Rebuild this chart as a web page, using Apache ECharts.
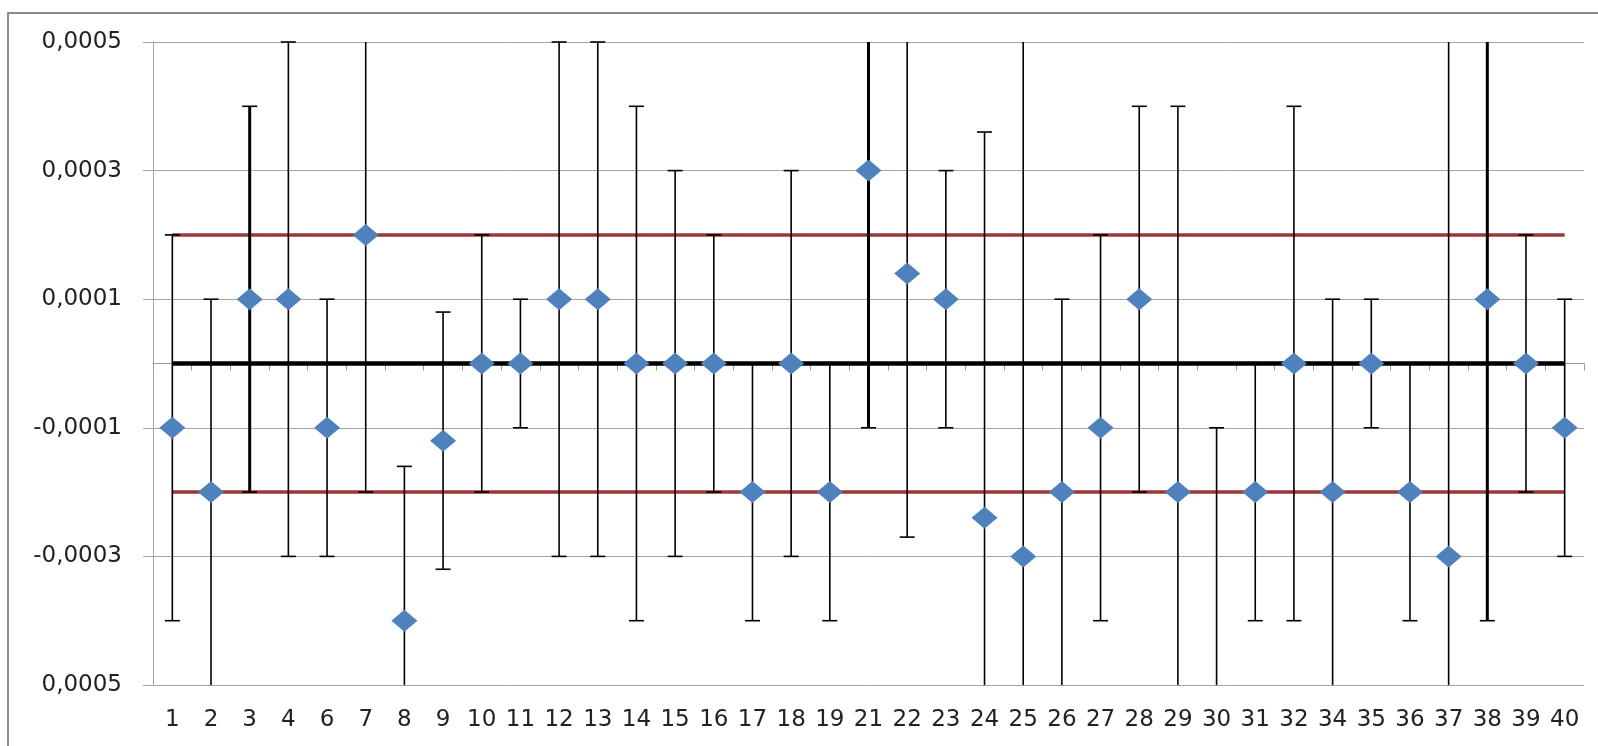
<!DOCTYPE html>
<html>
<head>
<meta charset="utf-8">
<script src="https://cdn.jsdelivr.net/npm/echarts@6/dist/echarts.min.js"></script>
<style>
  html, body { margin: 0; padding: 0; background: #ffffff; }
  #chart { width: 1598px; height: 746px; }
</style>
</head>
<body>
<div id="chart"></div>
<script>
// ---- data ----
const categories = ['1','2','3','4','6','7','8','9','10','11','12','13','14','15','16','17','18','19','21','22','23','24','25','26','27','28','29','30','31','32','34','35','36','37','38','39','40'];
const values = [-0.0001,-0.0002,0.0001,0.0001,-0.0001,0.0002,-0.0004,-0.00012,0,0,0.0001,0.0001,0,0,0,-0.0002,0,-0.0002,0.0003,0.00014,0.0001,-0.00024,-0.0003,-0.0002,-0.0001,0.0001,-0.0002,null,-0.0002,0,-0.0002,0,-0.0002,-0.0003,0.0001,0,-0.0001];
const errHigh = [0.0002,0.0001,0.0004,0.0005,0.0001,0.0006,-0.00016,0.00008,0.0002,0.0001,0.0005,0.0005,0.0004,0.0003,0.0002,0,0.0003,0,0.0007,0.00055,0.0003,0.00036,0.0006,0.0001,0.0002,0.0004,0.0004,-0.0001,0,0.0004,0.0001,0.0001,0,0.0006,0.0006,0.0002,0.0001];
const errLow = [-0.0004,-0.0005,-0.0002,-0.0003,-0.0003,-0.0002,-0.00064,-0.00032,-0.0002,-0.0001,-0.0003,-0.0003,-0.0004,-0.0003,-0.0002,-0.0004,-0.0003,-0.0004,-0.0001,-0.00027,-0.0001,-0.00084,-0.0012,-0.0005,-0.0004,-0.0002,-0.0008,-0.0009,-0.0004,-0.0004,-0.0005,-0.0001,-0.0004,-0.0012,-0.0004,-0.0002,-0.0003];
const thickBars = ['3','21','38'];
const upperLimit = 0.0002;
const lowerLimit = -0.0002;
const centerLine = 0;
const yMin = -0.0005, yMax = 0.0005, yStep = 0.0002;
const yTickLabels = ['0,0005','-0,0003','-0,0001','0,0001','0,0003','0,0005'];

// ---- chart ----
const chart = echarts.init(document.getElementById('chart'), null, { renderer: 'canvas' });
const FONT = 'DejaVu Sans';

const errData = categories.map((c, i) => [i, errLow[i], errHigh[i], thickBars.indexOf(c) >= 0 ? 1 : 0]);

function renderErr(params, api) {
  const i = api.value(0);
  const lo = api.value(1), hi = api.value(2), thick = api.value(3);
  const cs = params.coordSys;
  const top = cs.y, bottom = cs.y + cs.height;
  const pHi = api.coord([i, hi]);
  const pLo = api.coord([i, lo]);
  const x = pHi[0];
  const yHi = Math.max(top, pHi[1]);
  const yLo = Math.min(bottom, pLo[1]);
  const lw = thick ? 3 : 1.6;
  const stroke = { stroke: '#000', lineWidth: lw };
  const children = [{ type: 'line', shape: { x1: x, y1: yHi, x2: x, y2: yLo }, style: stroke }];
  const capW = 7.5;
  const capStyle = { stroke: '#000', lineWidth: 1.6 };
  if (pHi[1] >= top - 0.5) children.push({ type: 'line', shape: { x1: x - capW, y1: pHi[1], x2: x + capW, y2: pHi[1] }, style: capStyle });
  if (pLo[1] < bottom - 0.5) children.push({ type: 'line', shape: { x1: x - capW, y1: pLo[1], x2: x + capW, y2: pLo[1] }, style: capStyle });
  return { type: 'group', children: children };
}

const option = {
  animation: false,
  backgroundColor: '#ffffff',
  grid: { left: 153, right: 14, top: 42, bottom: 61, containLabel: false },
  xAxis: [
    {
      type: 'category', data: categories, boundaryGap: true, position: 'bottom',
      axisLine: { show: false, onZero: false },
      axisTick: { show: false },
      axisLabel: { color: '#222', fontFamily: FONT, fontSize: 23, margin: 24, interval: 0 },
      splitLine: { show: false }
    },
    {
      type: 'category', data: categories, boundaryGap: true, position: 'bottom',
      axisLine: { show: true, onZero: true, lineStyle: { color: '#9a9a9a', width: 1 } },
      axisTick: { show: true, length: 7, lineStyle: { color: '#9a9a9a', width: 1 } },
      axisLabel: { show: false },
      splitLine: { show: false }
    }
  ],
  yAxis: {
    type: 'value', min: yMin, max: yMax, interval: yStep,
    axisLine: { show: true, lineStyle: { color: '#a6a6a6', width: 1 } },
    axisTick: { show: true, length: 10, lineStyle: { color: '#a6a6a6', width: 1 } },
    axisLabel: {
      color: '#222', fontFamily: FONT, fontSize: 23, margin: 31,
      formatter: function (v, idx) { return yTickLabels[idx] !== undefined ? yTickLabels[idx] : ''; }
    },
    splitLine: { show: true, lineStyle: { color: '#a6a6a6', width: 1 } }
  },
  graphic: [
    { type: 'polyline', shape: { points: [[8, 746], [8, 13], [1598, 13]] }, style: { stroke: '#8c8c8c', lineWidth: 2, fill: null }, silent: true }
  ],
  series: [
    {
      name: 'upper', type: 'line', xAxisIndex: 0, data: categories.map(() => upperLimit),
      symbol: 'none', lineStyle: { color: '#993836', width: 3.5 }, z: 1, silent: true
    },
    {
      name: 'lower', type: 'line', xAxisIndex: 0, data: categories.map(() => lowerLimit),
      symbol: 'none', lineStyle: { color: '#993836', width: 3.5 }, z: 1, silent: true
    },
    {
      name: 'errors', type: 'custom', xAxisIndex: 0, renderItem: renderErr,
      encode: { x: 0, y: [1, 2] }, data: errData, z: 2, silent: true
    },
    {
      name: 'zero', type: 'line', xAxisIndex: 0, data: categories.map(() => centerLine),
      symbol: 'none', lineStyle: { color: '#000000', width: 4.5 }, z: 3, silent: true
    },
    {
      name: 'values', type: 'scatter', xAxisIndex: 0, data: values,
      symbol: 'diamond', symbolSize: [26, 22],
      itemStyle: { color: '#4F81BD', opacity: 1 }, z: 4
    }
  ]
};
chart.setOption(option);
</script>
</body>
</html>
